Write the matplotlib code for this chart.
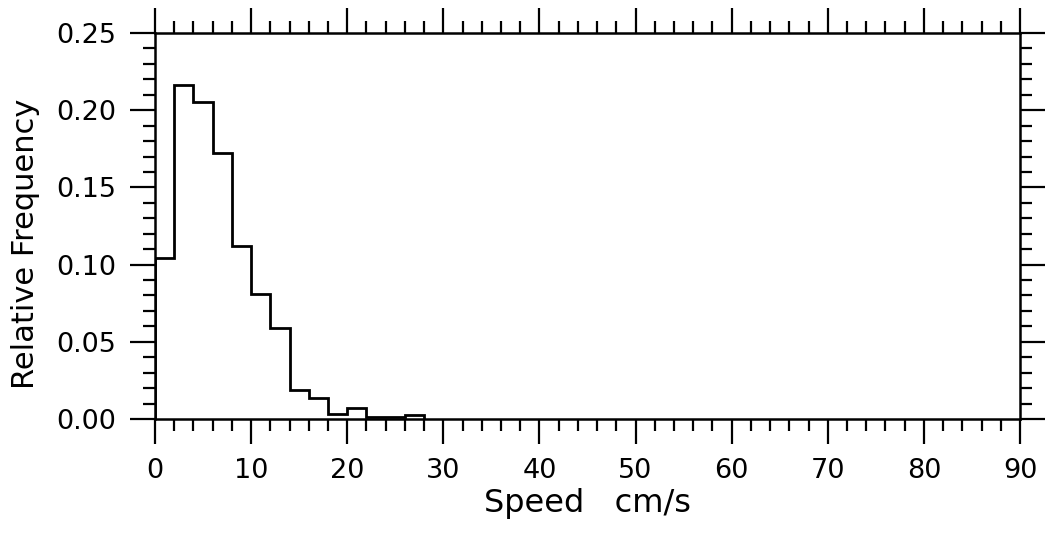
import numpy as np
import matplotlib.pyplot as plt
from matplotlib.ticker import MultipleLocator

# bin edges (cm/s) and relative frequency per 2 cm/s bin
edges = np.arange(0, 30, 2)
freq = [0.104, 0.216, 0.205, 0.172, 0.112, 0.081, 0.059,
        0.019, 0.0134, 0.0032, 0.0069, 0.0015, 0.0015, 0.0027]

xticks = [0, 10, 20, 30, 40, 50, 60, 70, 80, 90]
yticks = [0.00, 0.05, 0.10, 0.15, 0.20, 0.25]

plt.rcParams['font.family'] = ['DejaVu Sans']

fig = plt.figure(figsize=(10.5, 5.41), dpi=100)
ax = fig.add_axes([0.1476, 0.2255, 0.8238, 0.7135])

ax.stairs(freq, edges, color='black', linewidth=2.0, baseline=0)

ax.set_xlim(0, 90)
ax.set_ylim(0, 0.25)
ax.set_xticks(xticks)
ax.set_yticks(yticks)
ax.set_yticklabels(['%.2f' % v for v in yticks])
ax.xaxis.set_minor_locator(MultipleLocator(2))
ax.yaxis.set_minor_locator(MultipleLocator(0.01))

for s in ax.spines.values():
    s.set_linewidth(1.8)

ax.tick_params(which='both', direction='out', top=True, right=True,
               width=1.6, colors='black')
ax.tick_params(which='major', length=18, labelsize=19.5, pad=10)
ax.tick_params(which='minor', length=8.5)

ax.set_xlabel('Speed   cm/s', fontsize=23, labelpad=3)
ax.set_ylabel('Relative Frequency', fontsize=22)
ax.yaxis.set_label_coords(-0.133, 0.453)

fig.savefig('out.png', dpi=100)
